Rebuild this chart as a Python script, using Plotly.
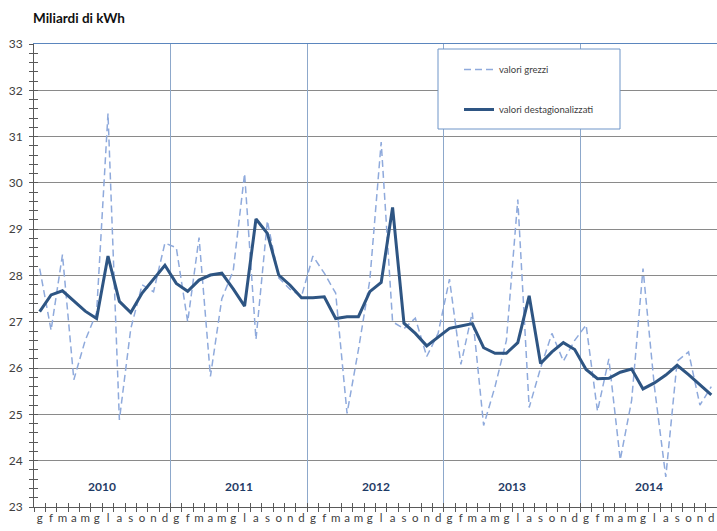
import plotly.graph_objects as go

# ---- data ----
years = [2010, 2011, 2012, 2013, 2014]
months = ["g", "f", "m", "a", "m", "g", "l", "a", "s", "o", "n", "d"]

grezzi = [
    28.15, 26.82, 28.45, 25.75, 26.60, 27.20, 31.50, 24.88, 26.85, 27.80, 27.65, 28.70,
    28.60, 27.00, 28.82, 25.82, 27.50, 28.10, 30.20, 26.62, 29.18, 27.95, 27.70, 27.55,
    28.42, 28.05, 27.62, 25.02, 26.40, 27.90, 30.88, 27.00, 26.85, 27.08, 26.25, 26.75,
    27.92, 26.08, 27.20, 24.76, 25.60, 26.60, 29.64, 25.15, 26.00, 26.75, 26.15, 26.60,
    26.93, 25.07, 26.20, 24.02, 25.30, 28.15, 25.60, 23.65, 26.15, 26.35, 25.20, 25.60,
]
destag = [
    27.22, 27.58, 27.67, 27.45, 27.23, 27.07, 28.42, 27.44, 27.20, 27.62, 27.91, 28.22,
    27.83, 27.66, 27.90, 28.01, 28.05, 27.71, 27.34, 29.22, 28.91, 28.01, 27.79, 27.52,
    27.52, 27.54, 27.07, 27.11, 27.11, 27.65, 27.85, 29.47, 26.97, 26.75, 26.48, 26.68,
    26.86, 26.91, 26.96, 26.44, 26.32, 26.32, 26.55, 27.56, 26.10, 26.35, 26.55, 26.40,
    25.97, 25.77, 25.78, 25.91, 25.98, 25.55, 25.68, 25.85, 26.06, 25.86, 25.63, 25.42,
]
y_ticks = [23, 24, 25, 26, 27, 28, 29, 30, 31, 32, 33]

# ---- derived ----
n = len(grezzi)
idx = list(range(n))
labels = months * len(years)
boundaries = [i - 0.5 for i in range(n + 1)]
year_bounds = [12 * k - 0.5 for k in range(1, len(years))]
xr = [-0.5, n - 0.5]
yr = [y_ticks[0], y_ticks[-1]]

FONT = "Lato, 'Open Sans', sans-serif"
DARK = "#2E5583"
LIGHT = "#8FAADC"
GRID = "#8A8A8A"
AXIS = "#595959"

fig = go.Figure()

fig.add_trace(go.Scatter(
    x=idx, y=grezzi, mode="lines", name="valori grezzi",
    line=dict(color=LIGHT, width=1.5, dash="7px,4px"),
    legendgroup="a",
))
fig.add_trace(go.Scatter(
    x=idx, y=destag, mode="lines", name="valori destagionalizzati",
    line=dict(color=DARK, width=3),
    legendgroup="b",
))
# helper traces to activate overlay axes (invisible)
for xa, ya in (("x2", "y"), ("x3", "y"), ("x", "y2")):
    fig.add_trace(go.Scatter(
        x=idx, y=destag, mode="lines", xaxis=xa, yaxis=ya,
        line=dict(color="rgba(0,0,0,0)", width=0), showlegend=False,
        hoverinfo="skip",
    ))

for k, yv in enumerate(years):
    fig.add_annotation(
        x=12 * k + 5.5, y=23.45, xref="x", yref="y", text=f"<b>{yv}</b>",
        showarrow=False, font=dict(family=FONT, size=12, color="#1F3B66"),
    )

# legend box
fig.add_shape(type="rect", xref="paper", yref="paper",
              x0=(438 - 34) / 683, x1=(620 - 34) / 683,
              y0=1 - (129 - 44) / 463, y1=1 - (49 - 44) / 463,
              fillcolor="white", line=dict(color="#6F95C8", width=1), layer="above")

fig.update_layout(
    width=717, height=531,
    margin=dict(l=34, r=0, t=44, b=24),
    paper_bgcolor="white", plot_bgcolor="white",
    font=dict(family=FONT, color="#404040"),
    title=dict(text="<b>Miliardi di kWh</b>", xref="container", yref="container",
               x=33 / 717, xanchor="left", y=1 - 18 / 531, yanchor="middle",
               font=dict(family=FONT, size=13.5, color="#111111")),
    showlegend=True,
    legend=dict(x=(459 - 34) / 683, xanchor="left", y=1 - (55 - 44) / 463, yanchor="top",
                bgcolor="rgba(0,0,0,0)", borderwidth=0,
                font=dict(family=FONT, size=9.5, color="#404040"),
                tracegroupgap=21, itemwidth=30),
    xaxis=dict(range=xr, tickmode="array", tickvals=idx, ticktext=labels,
               ticks="", showgrid=False, zeroline=False,
               showline=True, linecolor=AXIS, linewidth=1,
               tickfont=dict(family=FONT, size=11.5, color="#404040"),
               minor=dict(tickmode="array", tickvals=boundaries, ticks="outside",
                          ticklen=4, tickcolor=AXIS, showgrid=False)),
    xaxis2=dict(range=xr, overlaying="x", side="bottom", anchor="y",
                tickmode="array", tickvals=boundaries, ticks="inside", ticklen=4,
                tickcolor=AXIS, showticklabels=False, showgrid=False,
                zeroline=False, showline=False),
    xaxis3=dict(range=xr, overlaying="x", side="top", anchor="y",
                tickmode="array", tickvals=year_bounds, ticks="",
                showticklabels=False, showgrid=True, gridcolor="#8DA8CB", gridwidth=1,
                zeroline=False, showline=True, linecolor="#5B86BE", linewidth=1),
    yaxis=dict(range=yr, tickmode="array", tickvals=y_ticks,
               ticks="outside", ticklen=4, tickcolor=AXIS,
               showgrid=True, gridcolor=GRID, gridwidth=1, zeroline=False,
               showline=True, linecolor=AXIS, linewidth=1,
               tickfont=dict(family=FONT, size=12, color="#404040"),
               ticklabelstandoff=4,
               minor=dict(dtick=0.2, tick0=23, ticks="outside", ticklen=4,
                          tickcolor=AXIS, showgrid=False)),
    yaxis2=dict(range=yr, overlaying="y", side="left", anchor="x",
                tickmode="linear", tick0=23, dtick=0.2, ticks="inside", ticklen=4,
                tickcolor=AXIS, showticklabels=False, showgrid=False,
                zeroline=False, showline=False),
)

fig.write_html("out.html", config={"displayModeBar": False},
               post_script="document.body.style.margin='0';")
